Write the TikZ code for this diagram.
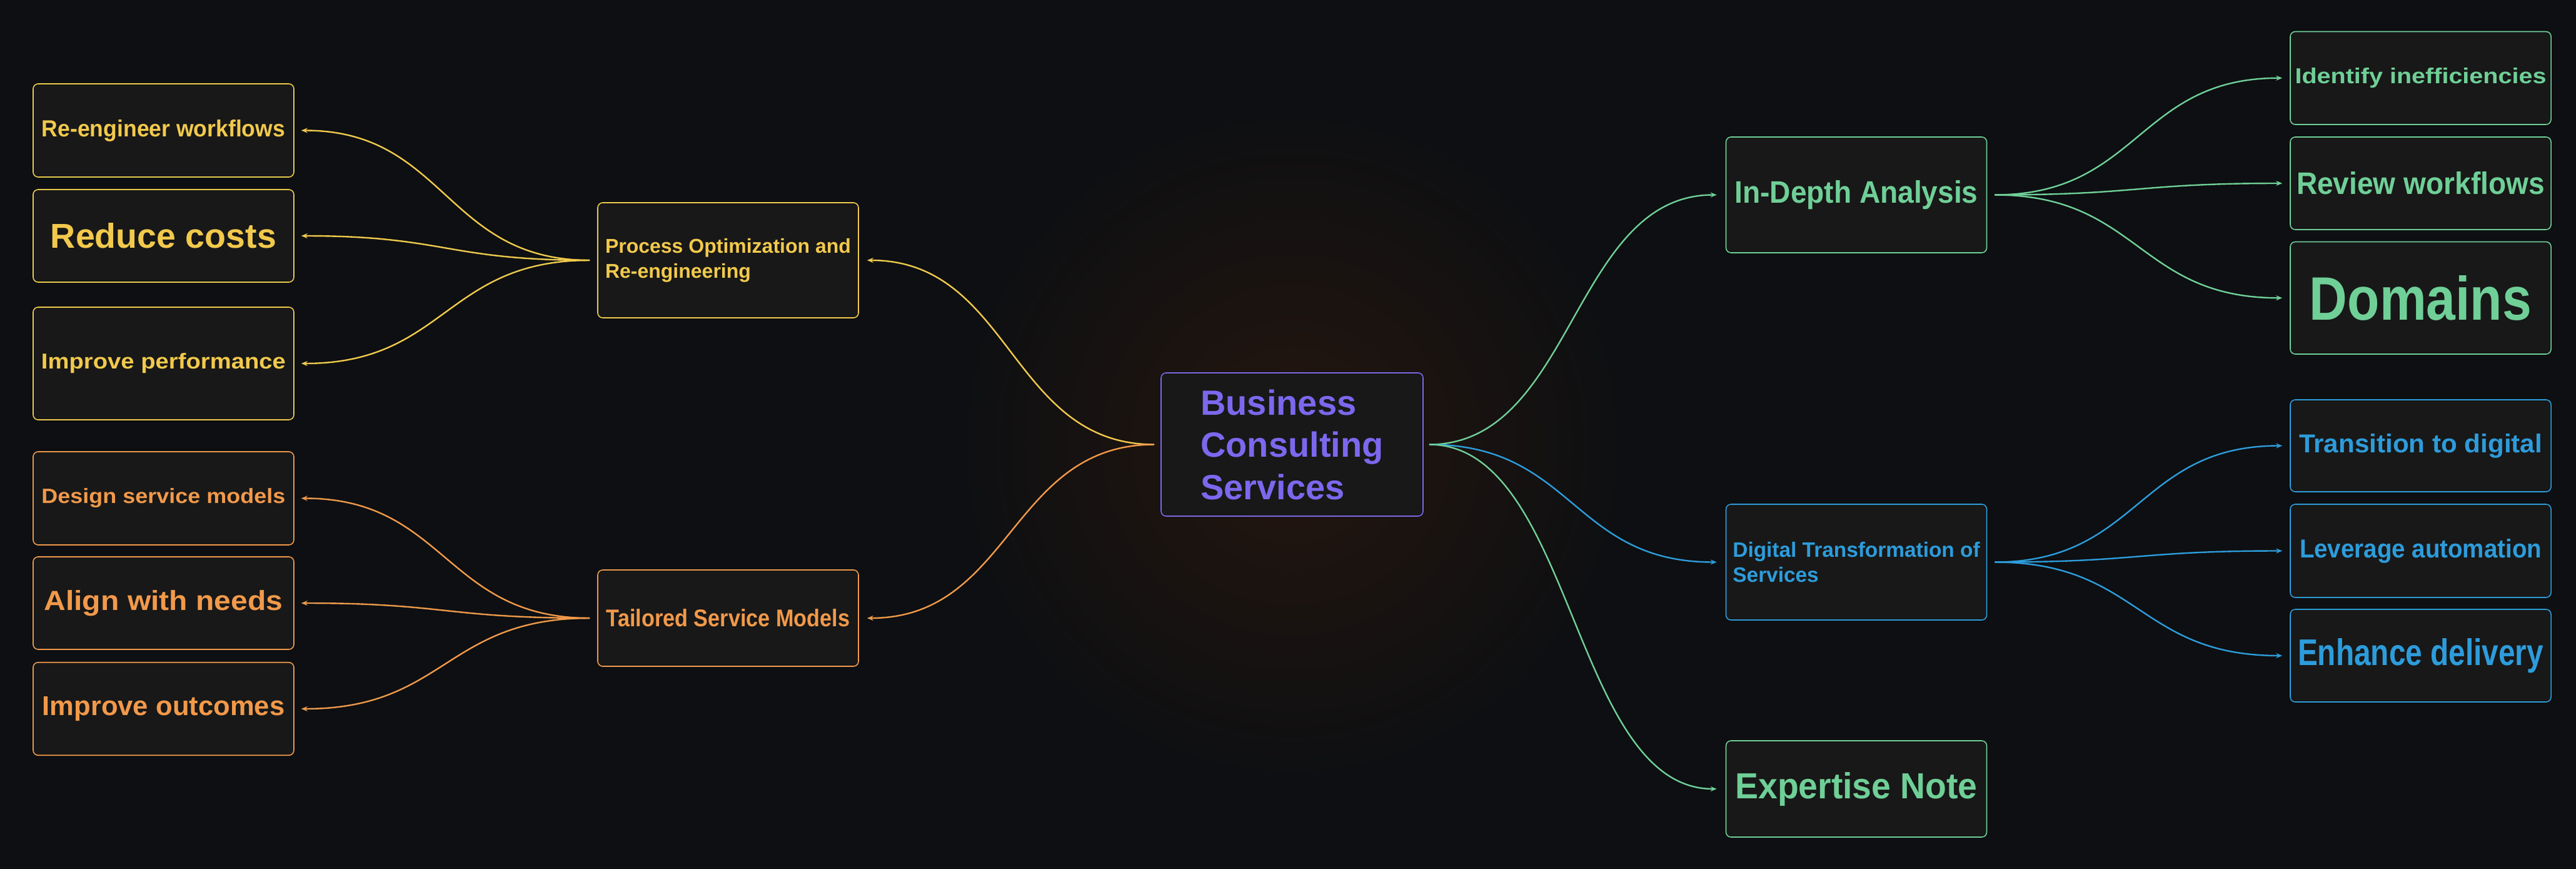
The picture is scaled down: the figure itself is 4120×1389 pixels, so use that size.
\documentclass[tikz,border=0pt]{standalone}
\usepackage{fontspec}
\setmainfont{Liberation Sans}
\usetikzlibrary{arrows.meta}
\definecolor{bg}{HTML}{0D0F12}
\definecolor{glow}{HTML}{24160F}
\definecolor{boxfill}{HTML}{181818}
\definecolor{ylw}{HTML}{F2C94C}
\definecolor{org}{HTML}{F2994A}
\definecolor{pur}{HTML}{7B68EE}
\definecolor{grn}{HTML}{6FCF97}
\definecolor{blu}{HTML}{2D9CDB}
\newcommand{\fitt}[3]{\resizebox{#1pt}{#2pt}{\bfseries #3}}
\tikzset{
  box/.style={draw, line width=1.6pt, rounded corners=8pt, fill=boxfill,
    inner sep=0pt, anchor=center, minimum width=417pt, font=\bfseries},
  edge/.style={line width=2.4pt, -{Stealth[length=10pt,width=8pt]}},
}
\begin{document}
\begin{tikzpicture}[x=1pt,y=-1pt]
\useasboundingbox (0,0) rectangle (4120,1389);
\fill[bg] (0,0) rectangle (4120,1389);
\shade[inner color=glow, outer color=bg] (2066,711) circle (560);

% center
\node[box, draw=pur, text=pur, minimum width=419pt, minimum height=229pt, align=left,
  font=\bfseries\fontsize{56}{67.5}\selectfont] (ctr) at (2066.5,710.5)
  {Business\\Consulting\\Services};

% left branch
\node[box, draw=ylw, text=ylw, minimum height=184pt, align=left,
  font=\bfseries\fontsize{32}{40}\selectfont] (pro) at (1164.5,416)
  {Process Optimization and\\Re-engineering};
\node[box, draw=org, text=org, minimum height=154pt] (tai) at (1164.5,988)
  {\fitt{389}{28}{Tailored Service Models}};

\node[box, draw=ylw, text=ylw, minimum height=149pt] (re) at (261.5,208.5)
  {\fitt{389}{27}{Re-engineer workflows}};
\node[box, draw=ylw, text=ylw, minimum height=148pt] (rc) at (261.5,377)
  {\fitt{361}{40}{Reduce costs}};
\node[box, draw=ylw, text=ylw, minimum height=180pt] (ip) at (261.5,581)
  {\fitt{391}{25}{Improve performance}};
\node[box, draw=org, text=org, minimum height=149pt] (ds) at (261.5,796.5)
  {\fitt{390}{24}{Design service models}};
\node[box, draw=org, text=org, minimum height=148pt] (al) at (261.5,964)
  {\fitt{382}{32}{Align with needs}};
\node[box, draw=org, text=org, minimum height=148.5pt] (io) at (261.5,1133)
  {\fitt{388}{30}{Improve outcomes}};

% right branch
\node[box, draw=grn, text=grn, minimum height=185pt] (ida) at (2969,311.5)
  {\fitt{389}{36}{In-Depth Analysis}};
\node[box, draw=blu, text=blu, minimum height=185pt, align=left,
  font=\bfseries\fontsize{33.4}{40}\selectfont] (dig) at (2969,898.5)
  {Digital Transformation of\\Services};
\node[box, draw=grn, text=grn, minimum height=154pt] (exn) at (2969,1261)
  {\fitt{387}{42}{Expertise Note}};

\node[box, draw=grn, text=grn, minimum height=148.5pt] (idn) at (3871.5,124.75)
  {\fitt{402}{25}{Identify inefficiencies}};
\node[box, draw=grn, text=grn, minimum height=148pt] (rvw) at (3871.5,293)
  {\fitt{397}{36}{Review workflows}};
\node[box, draw=grn, text=grn, minimum height=179.5pt] (dom) at (3871.5,476.25)
  {\fitt{355}{71}{Domains}};
\node[box, draw=blu, text=blu, minimum height=147pt] (trd) at (3871.5,712.5)
  {\fitt{389}{30}{Transition to digital}};
\node[box, draw=blu, text=blu, minimum height=149pt] (lev) at (3871.5,880.5)
  {\fitt{387}{30}{Leverage automation}};
\node[box, draw=blu, text=blu, minimum height=148pt] (enh) at (3871.5,1048)
  {\fitt{393}{43}{Enhance delivery}};

% edges: center
\draw[edge, ylw] ([xshift=-10pt]ctr.west) .. controls +(-231,0) and +(231,0) .. ([xshift=13pt]pro.east);
\draw[edge, org] ([xshift=-10pt]ctr.west) .. controls +(-231,0) and +(231,0) .. ([xshift=13pt]tai.east);
\draw[edge, grn] ([xshift=9pt]ctr.east) .. controls +(231,0) and +(-231,0) .. ([xshift=-14pt]ida.west);
\draw[edge, blu] ([xshift=9pt]ctr.east) .. controls +(231,0) and +(-231,0) .. ([xshift=-14pt]dig.west);
\draw[edge, grn] ([xshift=9pt]ctr.east) .. controls +(231,0) and +(-231,0) .. ([xshift=-14pt]exn.west);

% edges: left
\foreach \c in {re,rc,ip}
  \draw[edge, ylw] ([xshift=-12pt]pro.west) .. controls +(-231,0) and +(231,0) .. ([xshift=11pt]\c.east);
\foreach \c in {ds,al,io}
  \draw[edge, org] ([xshift=-12pt]tai.west) .. controls +(-231,0) and +(231,0) .. ([xshift=11pt]\c.east);

% edges: right
\foreach \c in {idn,rvw,dom}
  \draw[edge, grn] ([xshift=12pt]ida.east) .. controls +(231,0) and +(-231,0) .. ([xshift=-12pt]\c.west);
\foreach \c in {trd,lev,enh}
  \draw[edge, blu] ([xshift=12pt]dig.east) .. controls +(231,0) and +(-231,0) .. ([xshift=-12pt]\c.west);
\end{tikzpicture}
\end{document}
